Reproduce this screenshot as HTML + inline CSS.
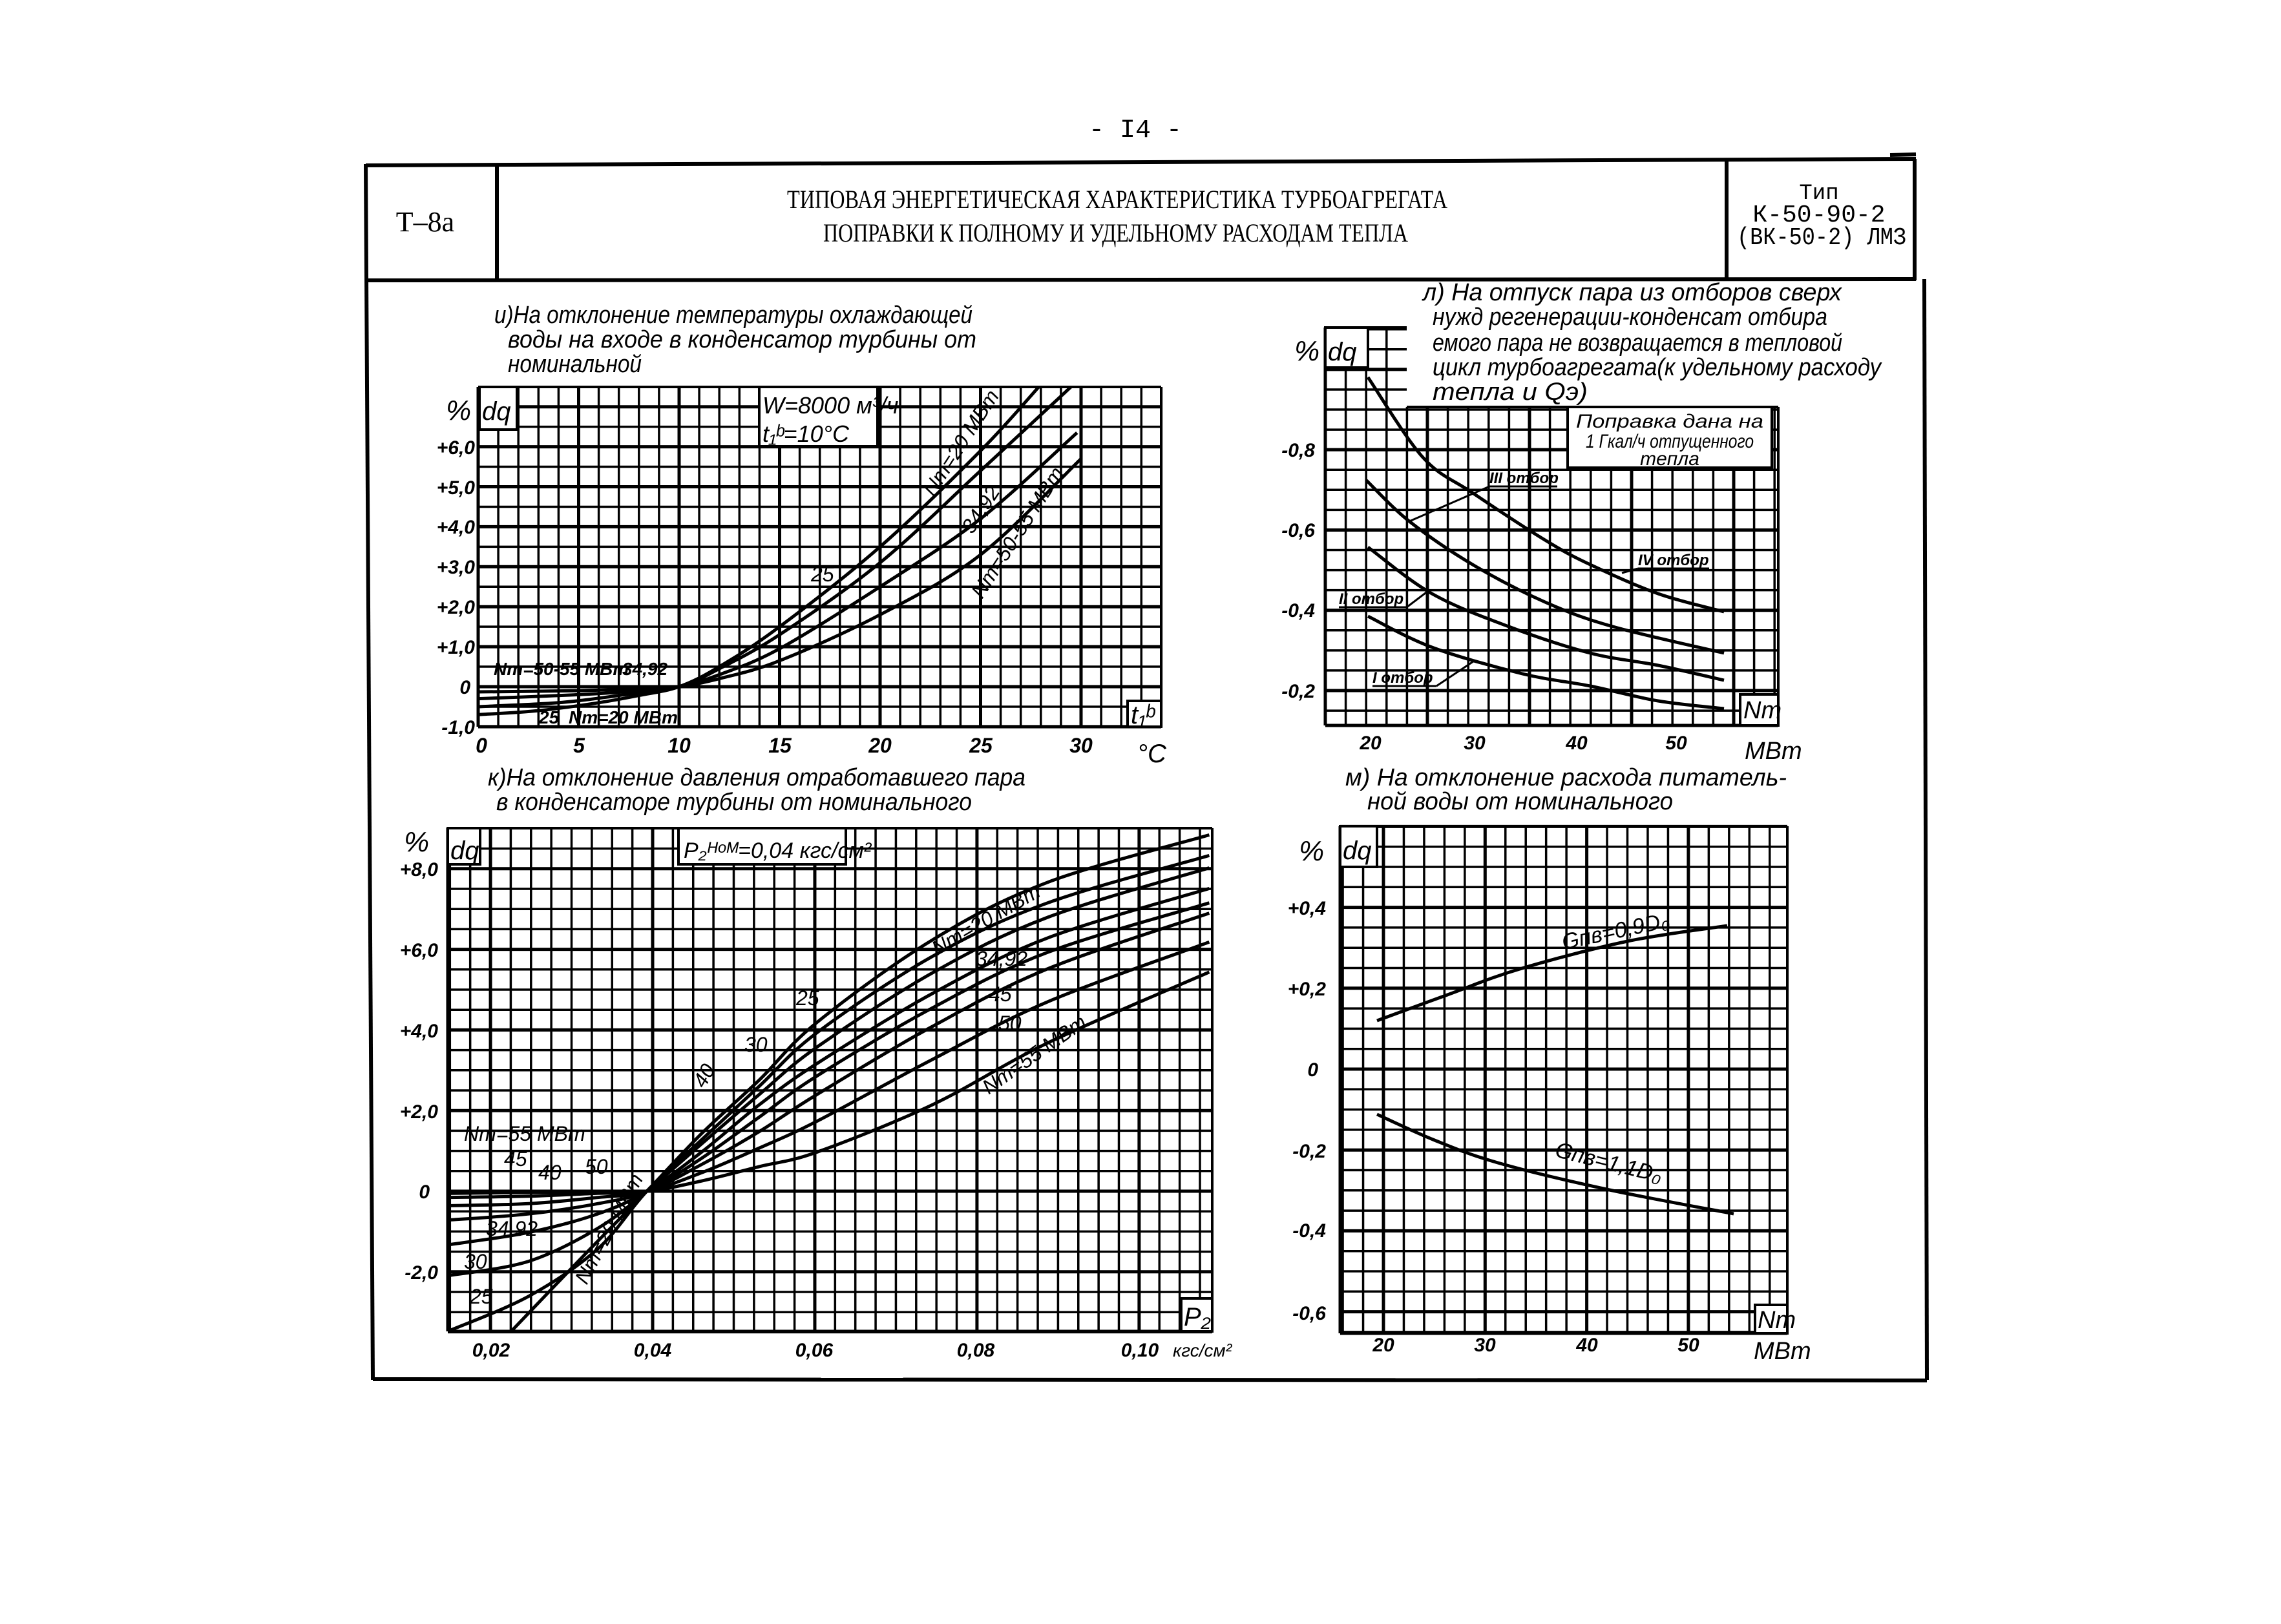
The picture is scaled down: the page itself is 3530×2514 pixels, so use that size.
<!DOCTYPE html>
<html><head><meta charset="utf-8">
<style>
html,body{margin:0;padding:0;background:#fff;}
svg{display:block;}
.h{font-family:"Liberation Sans","DejaVu Sans",sans-serif;font-style:italic;fill:#000;}
.t{font-family:"Liberation Serif","DejaVu Serif",serif;fill:#000;}
.m{font-family:"Liberation Mono","DejaVu Sans Mono",monospace;fill:#000;}
.b{font-family:"Liberation Sans","DejaVu Sans",sans-serif;font-style:italic;font-weight:bold;fill:#000;}
</style></head>
<body>
<svg id="s" xmlns="http://www.w3.org/2000/svg" width="3530" height="2514" viewBox="0 0 3530 2514">
<rect width="3530" height="2514" fill="#fff"/>
<g id="grids" stroke="#000" fill="none"></g>
<g id="curves" stroke="#000" fill="none" stroke-width="5"></g>
<!-- white label boxes -->
<g fill="#fff" stroke="#000" stroke-width="4">
  <rect x="742" y="599" width="58" height="66"/>
  <rect x="1175" y="599" width="183" height="92"/>
  <rect x="1745" y="1085" width="52" height="40"/>
  <rect x="2051" y="507" width="66" height="62"/>
  <rect x="2426" y="630" width="316" height="94"/>
  <rect x="2693" y="1075" width="59" height="48"/>
  <rect x="693" y="1282" width="50" height="56"/>
  <rect x="1050" y="1282" width="259" height="56"/>
  <rect x="1828" y="2010" width="48" height="51"/>
  <rect x="2074" y="1279" width="57" height="63"/>
  <rect x="2716" y="2020" width="50" height="44"/>
</g>
<g fill="#fff" stroke="none">
  <rect x="2180" y="440" width="790" height="188"/>
</g>
<!-- frame -->
<g stroke="#000" stroke-width="6" fill="none">
  <line x1="566" y1="256" x2="2965" y2="246"/>
  <line x1="2925" y1="240" x2="2965" y2="239"/>
  <line x1="566" y1="254" x2="577" y2="2136"/>
  <line x1="568" y1="434" x2="2965" y2="432"/>
  <line x1="769" y1="254" x2="769" y2="434"/>
  <line x1="2672" y1="248" x2="2672" y2="434"/>
  <line x1="2963" y1="246" x2="2963" y2="434"/>
  <line x1="2978" y1="432" x2="2982" y2="2136"/>
  <line x1="577" y1="2135" x2="2982" y2="2137"/>
</g>
<!-- header text -->
<text class="m" x="1757" y="212" font-size="40" text-anchor="middle">- I4 -</text>
<text class="t" x="658" y="358" font-size="44" text-anchor="middle">Т–8а</text>
<text class="t" x="1218" y="322" font-size="40" textLength="1022" lengthAdjust="spacingAndGlyphs">ТИПОВАЯ ЭНЕРГЕТИЧЕСКАЯ ХАРАКТЕРИСТИКА ТУРБОАГРЕГАТА</text>
<text class="t" x="1274" y="374" font-size="40" textLength="905" lengthAdjust="spacingAndGlyphs">ПОПРАВКИ К ПОЛНОМУ И УДЕЛЬНОМУ РАСХОДАМ ТЕПЛА</text>
<text class="m" x="2815" y="308" font-size="34" text-anchor="middle">Тип</text>
<text class="m" x="2815" y="343" font-size="38" text-anchor="middle">К-50-90-2</text>
<text class="m" x="2688" y="378" font-size="38" textLength="262" lengthAdjust="spacingAndGlyphs">(ВК-50-2) ЛМЗ</text>

<!-- captions -->
<g class="h" font-size="38">
<text x="765" y="500" textLength="740" lengthAdjust="spacingAndGlyphs">и)На отклонение температуры охлаждающей</text>
<text x="786" y="538" textLength="725" lengthAdjust="spacingAndGlyphs">воды на входе  в конденсатор турбины от</text>
<text x="786" y="576" textLength="207" lengthAdjust="spacingAndGlyphs">номинальной</text>
<text x="755" y="1216" textLength="832" lengthAdjust="spacingAndGlyphs">к)На отклонение давления отработавшего пара</text>
<text x="768" y="1254" textLength="736" lengthAdjust="spacingAndGlyphs">в конденсаторе турбины от номинального</text>
<text x="2202" y="465" textLength="648" lengthAdjust="spacingAndGlyphs">л) На отпуск пара из отборов сверх</text>
<text x="2217" y="503" textLength="611" lengthAdjust="spacingAndGlyphs">нужд регенерации-конденсат отбира</text>
<text x="2217" y="543" textLength="634" lengthAdjust="spacingAndGlyphs">емого пара не возвращается в тепловой</text>
<text x="2217" y="581" textLength="694" lengthAdjust="spacingAndGlyphs">цикл турбоагрегата(к удельному расходу</text>
<text x="2217" y="619" textLength="240" lengthAdjust="spacingAndGlyphs">тепла  и Qэ)</text>
<text x="2082" y="1216" textLength="683" lengthAdjust="spacingAndGlyphs">м) На отклонение расхода питатель-</text>
<text x="2116" y="1253" textLength="473" lengthAdjust="spacingAndGlyphs">ной воды от номинального</text>
</g>
<g class="h" font-size="30">
<text x="2584" y="662" text-anchor="middle" textLength="290" lengthAdjust="spacingAndGlyphs">Поправка дана на</text>
<text x="2584" y="693" text-anchor="middle" textLength="260" lengthAdjust="spacingAndGlyphs">1 Гкал/ч отпущенного</text>
<text x="2584" y="720" text-anchor="middle">тепла</text>
</g>

<!-- chart и labels -->
<g class="b" font-size="30" text-anchor="end">
<text x="735" y="703">+6,0</text><text x="735" y="765">+5,0</text><text x="735" y="826">+4,0</text>
<text x="735" y="888">+3,0</text><text x="735" y="950">+2,0</text><text x="735" y="1012">+1,0</text>
<text x="728" y="1074">0</text><text x="735" y="1136">-1,0</text>
</g>
<g class="b" font-size="32" text-anchor="middle">
<text x="745" y="1165">0</text><text x="896" y="1165">5</text><text x="1051" y="1165">10</text>
<text x="1207" y="1165">15</text><text x="1362" y="1165">20</text><text x="1518" y="1165">25</text><text x="1673" y="1165">30</text>
</g>
<text class="h" x="1760" y="1180" font-size="40">°С</text>
<text class="h" x="1750" y="1120" font-size="40">t₁ᵇ</text>
<text class="h" x="690" y="650" font-size="44">%</text>
<text class="h" x="746" y="650" font-size="40">dq</text>
<text class="h" x="1180" y="640" font-size="36">W=8000 м³/ч</text>
<text class="h" x="1180" y="684" font-size="36">t₁ᵇ=10°С</text>
<g class="h" font-size="32">
<text transform="translate(1445,770) rotate(-57)">Nт=20 МВт</text>
<text transform="translate(1505,828) rotate(-57)">34,92</text>
<text transform="translate(1520,928) rotate(-57)">Nт=50-55 МВт</text>
<text x="1255" y="900">25</text>
</g>
<g class="b" font-size="28">
<text x="764" y="1045">Nт=50-55 МВт</text>
<text x="963" y="1045">34,92</text>
<text x="834" y="1120">25</text>
<text x="880" y="1120">Nт=20 МВт</text>
</g>

<!-- chart к labels -->
<g class="b" font-size="30" text-anchor="end">
<text x="678" y="1356">+8,0</text><text x="678" y="1481">+6,0</text><text x="678" y="1606">+4,0</text>
<text x="678" y="1731">+2,0</text><text x="665" y="1855">0</text><text x="678" y="1980">-2,0</text>
</g>
<text class="h" x="625" y="1318" font-size="44">%</text>
<text class="h" x="697" y="1330" font-size="40">dq</text>
<text class="h" x="1058" y="1328" font-size="34">P₂ᴴᵒᴹ=0,04 кгс/см²</text>
<text class="h" x="1832" y="2052" font-size="40">P₂</text>
<g class="b" font-size="30" text-anchor="middle">
<text x="760" y="2100">0,02</text><text x="1010" y="2100">0,04</text><text x="1260" y="2100">0,06</text>
<text x="1510" y="2100">0,08</text><text x="1764" y="2100">0,10</text>
</g>
<text class="h" x="1815" y="2100" font-size="28">кгс/см²</text>
<g class="h" font-size="32">
<text transform="translate(1450,1480) rotate(-30)">Nт=20 МВт</text>
<text x="1510" y="1495">34,92</text>
<text x="1530" y="1550">45</text>
<text x="1545" y="1595">50</text>
<text transform="translate(1530,1695) rotate(-35)">Nт=55 МВт</text>
<text x="1232" y="1556">25</text>
<text x="1152" y="1628">30</text>
<text transform="translate(1090,1686) rotate(-60)">40</text>
<text x="718" y="1766">Nт=55 МВт</text>
<text x="780" y="1805">45</text>
<text x="833" y="1826">40</text>
<text x="905" y="1817">50</text>
<text x="752" y="1913">34,92</text>
<text x="718" y="1964">30</text>
<text x="727" y="2018">25</text>
<text transform="translate(908,1990) rotate(-62)">Nт=20 МВт</text>
</g>

<!-- chart л labels -->
<g class="b" font-size="30" text-anchor="end">
<text x="2035" y="707">-0,8</text><text x="2035" y="831">-0,6</text>
<text x="2035" y="955">-0,4</text><text x="2035" y="1080">-0,2</text>
</g>
<text class="h" x="2003" y="558" font-size="44">%</text>
<text class="h" x="2055" y="558" font-size="40">dq</text>
<g class="b" font-size="30" text-anchor="middle">
<text x="2121" y="1160">20</text><text x="2282" y="1160">30</text><text x="2440" y="1160">40</text><text x="2594" y="1160">50</text>
</g>
<text class="h" x="2700" y="1175" font-size="38">МВт</text>
<text class="h" x="2698" y="1112" font-size="38">Nт</text>
<g class="b" font-size="24">
<text x="2305" y="748">III отбор</text>
<text x="2535" y="875">IV отбор</text>
<text x="2072" y="935">II отбор</text>
<text x="2124" y="1057">I отбор</text>
</g>
<g stroke="#000" stroke-width="3">
<line x1="2305" y1="753" x2="2410" y2="753"/><line x1="2305" y1="753" x2="2181" y2="807"/>
<line x1="2535" y1="880" x2="2645" y2="880"/><line x1="2535" y1="880" x2="2510" y2="887"/>
<line x1="2072" y1="940" x2="2177" y2="940"/><line x1="2177" y1="940" x2="2210" y2="915"/>
<line x1="2124" y1="1062" x2="2223" y2="1062"/><line x1="2223" y1="1062" x2="2280" y2="1024"/>
</g>

<!-- chart м labels -->
<g class="b" font-size="30" text-anchor="end">
<text x="2052" y="1416">+0,4</text><text x="2052" y="1541">+0,2</text><text x="2040" y="1666">0</text>
<text x="2052" y="1792">-0,2</text><text x="2052" y="1915">-0,4</text><text x="2052" y="2043">-0,6</text>
</g>
<text class="h" x="2010" y="1332" font-size="44">%</text>
<text class="h" x="2078" y="1330" font-size="40">dq</text>
<g class="b" font-size="30" text-anchor="middle">
<text x="2141" y="2092">20</text><text x="2298" y="2092">30</text><text x="2456" y="2092">40</text><text x="2613" y="2092">50</text>
</g>
<text class="h" x="2714" y="2104" font-size="38">МВт</text>
<text class="h" x="2720" y="2056" font-size="38">Nт</text>
<text class="h" transform="translate(2420,1470) rotate(-12)" font-size="34">Gпв=0,9D₀</text>
<text class="h" transform="translate(2405,1790) rotate(14)" font-size="34">Gпв=1,1D₀</text>
</svg>
<script>
(function(){
var NS="http://www.w3.org/2000/svg";
var G=document.getElementById('grids'),C=document.getElementById('curves');
function ln(p,x1,y1,x2,y2,w){var e=document.createElementNS(NS,'line');e.setAttribute('x1',x1);e.setAttribute('y1',y1);e.setAttribute('x2',x2);e.setAttribute('y2',y2);e.setAttribute('stroke-width',w);p.appendChild(e);}
function grid(x0,x1,y0,y1,xa,dx,ya,dy,mx,my,segs){
  var k,x,y;
  for(k=Math.ceil((x0-xa)/dx-0.15);;k++){x=xa+k*dx;if(x>x1+3)break;
    var top=y0; if(segs){for(var i=0;i<segs.length;i++){if(x>segs[i][0]-2&&x<segs[i][1]+2)top=segs[i][2];}}
    ln(G,x,top,x,y1,(mx(k)?5:3.5));}
  for(k=Math.ceil((y0-ya)/dy-0.15);;k++){y=ya+k*dy;if(y>y1+3)break;
    var l=x0,r=x1; if(segs&&y<segs[segs.length-1][2]){r=segs[0][1];}
    ln(G,l,y,r,y,(my(k)?5:3.5));}
  ln(G,x0,y0,x0,y1,5);ln(G,x0,y1,x1,y1,5);
}
function path(pts){
  var d='M'+pts[0][0]+','+pts[0][1];
  for(var i=0;i<pts.length-1;i++){
    var p0=pts[i-1]||pts[i],p1=pts[i],p2=pts[i+1],p3=pts[i+2]||p2;
    var c1=[p1[0]+(p2[0]-p0[0])/6,p1[1]+(p2[1]-p0[1])/6],c2=[p2[0]-(p3[0]-p1[0])/6,p2[1]-(p3[1]-p1[1])/6];
    d+=' C'+c1[0].toFixed(1)+','+c1[1].toFixed(1)+' '+c2[0].toFixed(1)+','+c2[1].toFixed(1)+' '+p2[0].toFixed(1)+','+p2[1].toFixed(1);}
  var e=document.createElementNS(NS,'path');e.setAttribute('d',d);C.appendChild(e);
}
grid(740,1797,599,1125,740,31.1,1063,30.95,function(k){return k%5==0;},function(k){return k%2==0;});
ln(G,740,599,1797,599,4);ln(G,1797,599,1797,1125,4);
function I(a){return a.map(function(p){return [740+31.1*p[0],1063-61.9*p[1]];});}
path(I([[0,-0.7],[3,-0.6],[6,-0.4],[8,-0.22],[10,0],[12,0.5],[15,1.5],[20,3.5],[25,5.9],[27.9,7.5]]));
path(I([[0,-0.5],[4,-0.4],[7,-0.22],[10,0],[12,0.45],[15,1.3],[20,3.1],[25,5.4],[29.5,7.5]]));
path(I([[0,-0.3],[5,-0.2],[8,-0.1],[10,0],[12,0.3],[15,0.95],[20,2.5],[25,4.2],[29.8,6.35]]));
path(I([[0,-0.13],[5,-0.1],[8,-0.05],[10,0],[12,0.2],[15,0.65],[20,1.8],[25,3.3],[30,5.7]]));
grid(693,1876,1282,2061,1010,31.37,1844,31.2,function(k){return k%8==0;},function(k){return k%4==0;});
ln(G,693,1282,1876,1282,4);ln(G,1876,1282,1876,2061,4);
function K(a){return a.map(function(p){return [550+p[0]/1.12,1200+p[1]/1.568];});}
var kc=[
[[270,1350],[400,1160],[505,1010],[600,870],[700,740],[800,600],[1000,400],[1200,260],[1480,145]],
[[160,1350],[300,1265],[420,1150],[505,1010],[600,885],[700,755],[800,625],[1000,440],[1200,310],[1480,195]],
[[160,1215],[300,1180],[420,1100],[505,1010],[600,895],[700,775],[800,660],[1000,480],[1200,345],[1480,225]],
[[160,1140],[300,1110],[420,1065],[505,1010],[600,915],[700,800],[800,700],[1000,530],[1200,395],[1480,275]],
[[160,1080],[300,1065],[420,1040],[505,1010],[600,930],[700,830],[800,730],[1000,565],[1200,430],[1480,310]],
[[160,1045],[300,1040],[420,1025],[505,1010],[600,945],[700,865],[800,775],[1000,610],[1200,470],[1480,335]],
[[160,1025],[300,1022],[420,1015],[505,1010],[600,965],[700,905],[800,840],[1000,690],[1200,550],[1480,405]],
[[160,1015],[300,1013],[420,1011],[505,1010],[600,985],[700,950],[800,915],[1000,800],[1200,650],[1480,478]]];
kc.forEach(function(c){path(K(c));});
grid(2051,2752,507,1123,2051,31.6,1069,31.07,function(k){return k%5==0;},function(k){return k%4==0;},[[2051,2177,507],[2178,2752,630]]);
ln(G,2051,507,2177,507,4);ln(G,2177,630,2752,630,4);ln(G,2752,630,2752,1123,4);
path([[2117,584],[2202,708],[2279,763],[2391,836],[2461,874],[2566,919],[2668,947]]);
path([[2114,743],[2181,807],[2279,874],[2391,932],[2496,970],[2668,1011]]);
path([[2117,847],[2216,919],[2335,970],[2461,1011],[2566,1030],[2668,1053]]);
path([[2117,954],[2216,1002],[2356,1043],[2461,1062],[2566,1085],[2668,1097]]);
grid(2074,2766,1279,2064,2141,31.46,1655,31.3,function(k){return k%5==0;},function(k){return k%4==0;});
ln(G,2074,1279,2766,1279,4);ln(G,2766,1279,2766,2064,4);
path([[2131,1580],[2240,1540],[2352,1500],[2519,1457],[2673,1433]]);
path([[2131,1725],[2220,1765],[2318,1800],[2486,1841],[2683,1879]]);
})();
</script>
</body></html>
